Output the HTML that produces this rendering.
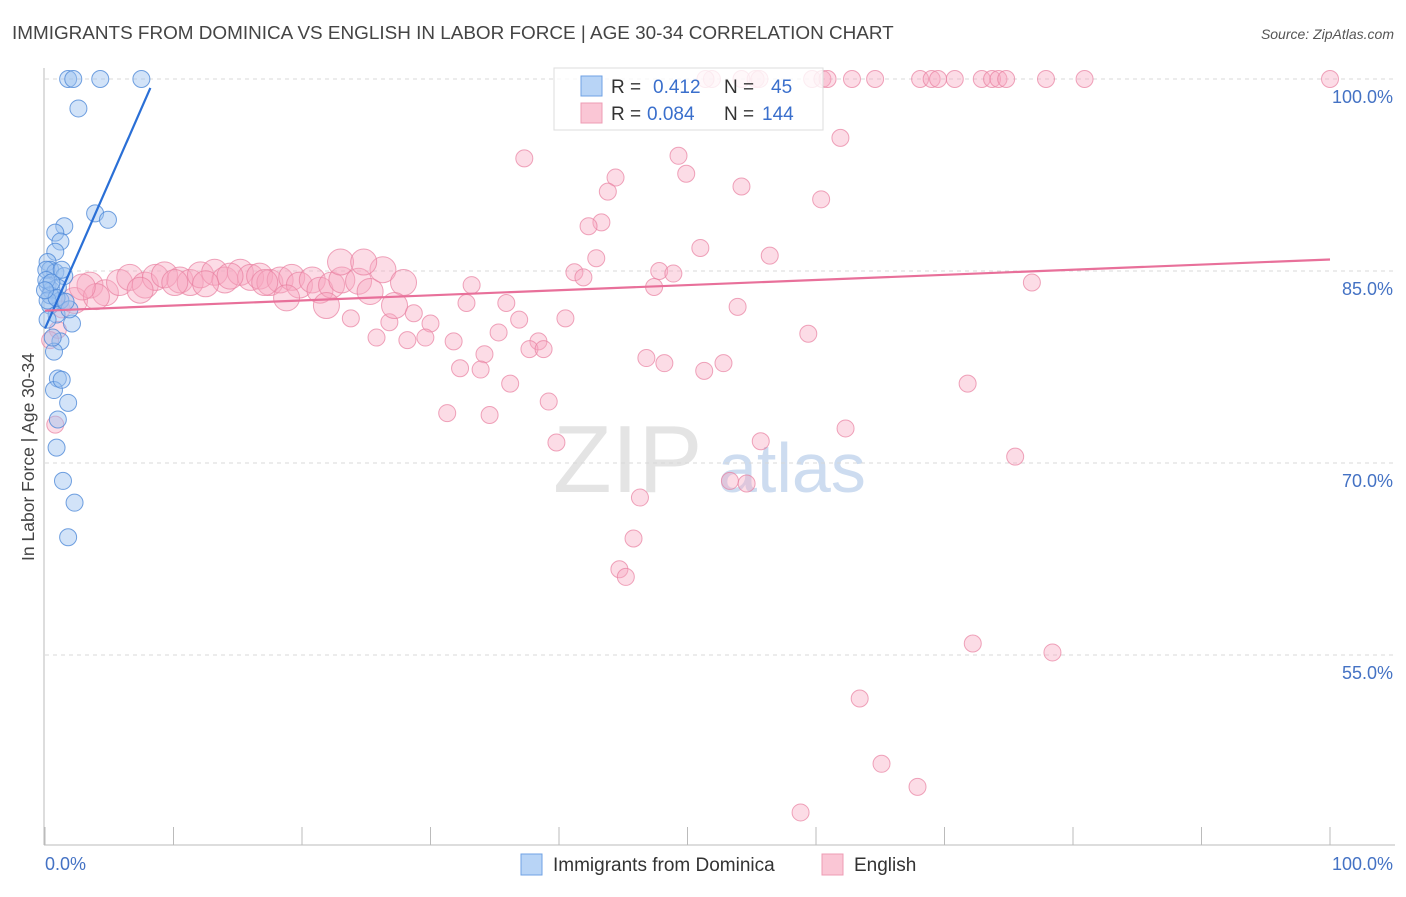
<!DOCTYPE html>
<html><head><meta charset="utf-8"><style>
body{margin:0;background:#fff;font-family:"Liberation Sans",sans-serif}
svg text{font-family:"Liberation Sans",sans-serif}
</style></head><body>
<svg id="c" width="1406" height="892" xmlns="http://www.w3.org/2000/svg">
<text x="12" y="39" font-size="18.9" fill="#444">IMMIGRANTS FROM DOMINICA VS ENGLISH IN LABOR FORCE | AGE 30-34 CORRELATION CHART</text>
<text x="1394" y="39" font-size="14" fill="#555" font-style="italic" text-anchor="end">Source: ZipAtlas.com</text>
<text transform="translate(34,457) rotate(-90)" font-size="17.5" fill="#444" text-anchor="middle">In Labor Force | Age 30-34</text>
<g>
<text x="553" y="492" font-size="96" font-family="Liberation Serif,serif" fill="#e4e4e4">ZIP</text>
<text x="718" y="492" font-size="70" fill="#cddcf0">atlas</text>
</g>
<g id="grid"></g><g id="axes"></g><g id="pink"></g><g id="blue"></g><g id="trend"></g>
<g>
<rect x="554" y="68" width="269" height="62" fill="#fff" fill-opacity="0.8" stroke="#ddd"/>
<rect x="581" y="76" width="21" height="20" fill="#b8d4f6" stroke="#6fa2e4"/>
<rect x="581" y="103" width="21" height="20" fill="#fac6d5" stroke="#ee9cb4"/>
<text x="611" y="93" font-size="19" fill="#333">R = </text><text x="653" y="93" font-size="19" fill="#3a6fcc">0.412</text>
<text x="724" y="93" font-size="19" fill="#333">N = </text><text x="771" y="93" font-size="19" fill="#3a6fcc">45</text>
<text x="611" y="120" font-size="19" fill="#333">R = </text><text x="647" y="120" font-size="19" fill="#3a6fcc">0.084</text>
<text x="724" y="120" font-size="19" fill="#333">N = </text><text x="762" y="120" font-size="19" fill="#3a6fcc">144</text>
</g>
<g>
<rect x="521" y="854" width="21" height="21" fill="#b8d4f6" stroke="#6fa2e4"/>
<text x="553" y="871" font-size="19" fill="#333">Immigrants from Dominica</text>
<rect x="822" y="854" width="21" height="21" fill="#fac6d5" stroke="#ee9cb4"/>
<text x="854" y="871" font-size="19" fill="#333">English</text>
</g>
</svg>
<script>
const yTicks=[100,85,70,55];
const yTickLabels=["100.0%","85.0%","70.0%","55.0%"];
const xTickLabels=["0.0%","100.0%"];
const blueX=[1.8,2.2,4.3,7.5,2.6,3.9,4.9,1.5,0.8,1.2,0.8,0.2,0.4,0.8,1.5,0.2,0.5,1.0,1.2,0.4,0.9,2.1,1.2,0.7,1.0,0.7,1.8,1.0,0.9,1.4,2.3,1.8,0.1,0.1,0.4,0.2,0.5,1.3,0.9,0.2,1.9,0.6,1.3,0,1.6];
const blueY=[100,100,100,100,97.7,89.5,89.0,88.5,88.0,87.3,86.5,85.7,85.1,84.9,84.6,83.9,83.5,83.7,82.7,82.3,81.6,80.9,79.5,78.7,76.6,75.7,74.7,73.4,71.2,68.6,66.9,64.2,85.1,84.3,83.1,82.7,84.1,85.1,82.9,81.2,82.0,79.8,76.5,83.5,82.6];
const pinkX=[51.9,54.2,55.3,59.7,60.5,60.9,62.8,64.6,68.1,69.0,69.5,70.8,72.9,73.7,74.2,74.8,77.9,80.9,100,51.4,55.6,
37.3,49.3,61.9,44.4,49.9,43.8,54.2,60.4,43.3,42.3,51.0,42.9,56.4,47.8,48.9,41.2,41.9,76.8,47.4,33.2,32.8,35.9,53.9,36.9,40.5,23.8,26.8,28.7,30.0,35.3,25.8,28.2,29.6,31.8,38.4,37.7,38.8,59.4,34.2,46.8,48.2,52.8,51.3,32.3,33.9,36.2,71.8,39.2,31.3,34.6,39.8,55.7,62.3,75.5,46.3,53.3,54.6,45.8,44.7,45.2,72.2,78.4,63.4,65.1,67.9,58.8,
1.3,1.0,2.3,3.5,4.7,5.8,6.6,7.8,8.6,9.3,10.5,11.3,12.1,13.2,14.0,15.2,16.0,16.7,17.5,18.3,19.2,19.8,20.8,21.4,22.3,23.1,24.4,25.3,26.3,27.9,18.8,21.9,23.0,24.8,27.2,4.0,2.9,7.4,10.1,14.4,12.5,17.1,0.4,0.8];
const pinkY=[100,100,100,100,100,100,100,100,100,100,100,100,100,100,100,100,100,100,100,100,100,
93.8,94.0,95.4,92.3,92.6,91.2,91.6,90.6,88.8,88.5,86.8,86.0,86.2,85.0,84.8,84.9,84.5,84.1,83.75,83.9,82.5,82.5,82.2,81.2,81.3,81.3,81.0,81.7,80.9,80.2,79.8,79.6,79.8,79.5,79.5,78.9,78.9,80.1,78.5,78.2,77.8,77.8,77.2,77.4,77.3,76.2,76.2,74.8,73.9,73.75,71.6,71.7,72.7,70.5,67.3,68.6,68.4,64.1,61.7,61.1,55.9,55.2,51.6,46.5,44.7,42.7,
82.0,80.4,82.7,83.9,83.3,84.1,84.5,83.9,84.5,84.7,84.3,84.1,84.7,84.9,84.3,84.9,84.5,84.6,84.1,84.3,84.5,83.9,84.3,83.5,83.9,84.3,84.2,83.4,85.1,84.1,82.9,82.3,85.7,85.7,82.3,83.0,83.75,83.5,84.1,84.6,84.0,84.1,79.6,73.0];
const blueTrend=[[0,80.5],[8.2,99.3]];
const pinkTrend=[[0,81.9],[100,85.9]];
const NS="http://www.w3.org/2000/svg";
function sx(v){return 45+v*12.85;}
function sy(v){return 79+(100-v)*12.8;}
function mk(tag,at,parent){const e=document.createElementNS(NS,tag);for(const k in at)e.setAttribute(k,at[k]);document.getElementById(parent).appendChild(e);return e;}
yTicks.forEach((t,i)=>{
  const l=mk('line',{x1:45,x2:1395,y1:sy(t),y2:sy(t),stroke:'#d8d8d8','stroke-dasharray':'4,4'},'grid');
  
  
  const tx=mk('text',{x:1393,y:sy(t)+24,'font-size':18,fill:'#4472c4','text-anchor':'end'},'grid');
  tx.textContent=yTickLabels[i];
  
  
});
const ax=mk('line',{x1:44,x2:44,y1:68,y2:845,stroke:'#bbb'},'axes');


const bx=mk('line',{x1:44,x2:1395,y1:845,y2:845,stroke:'#bbb'},'axes');


for(let i=0;i<=10;i++){const t=mk('line',{x1:sx(i*10),x2:sx(i*10),y1:827,y2:845,stroke:'#bbb'},'axes');

}
const x0=mk('text',{x:45,y:870,'font-size':18,fill:'#4472c4'},'axes');x0.textContent=xTickLabels[0];


const x1=mk('text',{x:1393,y:870,'font-size':18,fill:'#4472c4','text-anchor':'end'},'axes');x1.textContent=xTickLabels[1];


pinkX.forEach((x,i)=>{const y=pinkY[i];const big=(x<28&&y>82&&y<86.5);
  const c=mk('circle',{cx:sx(x),cy:sy(y),r:big?13:8.5,fill:'#f7a8c0','fill-opacity':0.4,stroke:'#e87fa0','stroke-opacity':0.7,'stroke-width':1},'pink');
  
  });
blueX.forEach((x,i)=>{
  const c=mk('circle',{cx:sx(x),cy:sy(blueY[i]),r:8.5,fill:'#9cc2f0','fill-opacity':0.45,stroke:'#4f8ad8','stroke-opacity':0.8,'stroke-width':1},'blue');
  
  });
const bl=mk('line',{x1:sx(blueTrend[0][0]),y1:sy(blueTrend[0][1]),x2:sx(blueTrend[1][0]),y2:sy(blueTrend[1][1]),stroke:'#2a6fd6','stroke-width':2.2},'trend');


const pl=mk('line',{x1:sx(pinkTrend[0][0]),y1:sy(pinkTrend[0][1]),x2:sx(pinkTrend[1][0]),y2:sy(pinkTrend[1][1]),stroke:'#e8709a','stroke-width':2.2},'trend');


</script>
</body></html>
